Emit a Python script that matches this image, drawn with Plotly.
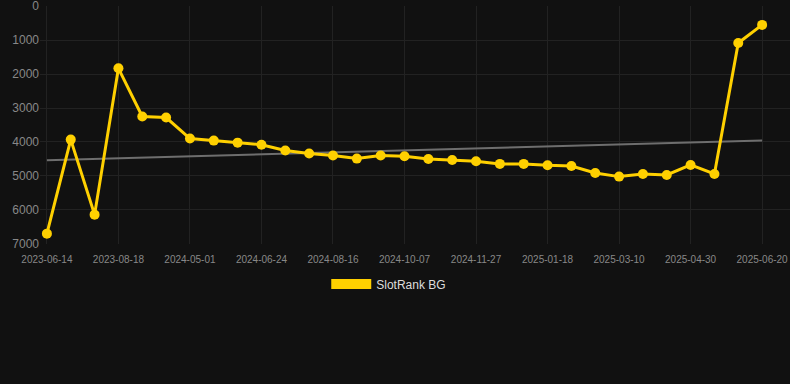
import plotly.graph_objects as go

dates = [
    "2023-06-14", "2023-07-06", "2023-07-28", "2023-08-18", "2024-03-29",
    "2024-04-15", "2024-05-01", "2024-05-19", "2024-06-06", "2024-06-24",
    "2024-07-12", "2024-07-29", "2024-08-16", "2024-09-02", "2024-09-20",
    "2024-10-07", "2024-10-24", "2024-11-10", "2024-11-27", "2024-12-14",
    "2025-01-01", "2025-01-18", "2025-02-04", "2025-02-21", "2025-03-10",
    "2025-03-27", "2025-04-13", "2025-04-30", "2025-05-17", "2025-06-03",
    "2025-06-20",
]
rank = [
    6700, 3930, 6140, 1830, 3250, 3280, 3900, 3960, 4020, 4080,
    4250, 4340, 4400, 4490, 4400, 4420, 4500, 4530, 4570, 4646,
    4646, 4687, 4706, 4912, 5020, 4942, 4972, 4676, 4942, 1083,
    551,
]
trend_x = [dates[0], dates[-1]]
trend_y = [4540, 3960]
tick_labels = dates[::3]
y_ticks = [0, 1000, 2000, 3000, 4000, 5000, 6000, 7000]
series_name = "SlotRank BG"

YELLOW = "#FFD000"

fig = go.Figure()
fig.add_trace(go.Scatter(
    x=trend_x, y=trend_y, mode="lines",
    line=dict(color="#6e6e6e", width=2), showlegend=False, hoverinfo="skip",
))
fig.add_trace(go.Scatter(
    x=dates, y=rank, mode="lines+markers",
    line=dict(color=YELLOW, width=3),
    marker=dict(color=YELLOW, size=10),
    showlegend=False,
))
fig.add_trace(go.Scatter(
    x=[None], y=[None], mode="lines",
    line=dict(color=YELLOW, width=12),
    name=series_name, showlegend=True,
))

fig.update_layout(
    width=790, height=384,
    paper_bgcolor="#111111", plot_bgcolor="#111111",
    margin=dict(l=40, r=0, t=6, b=140),
    font=dict(family="Arial, Liberation Sans, sans-serif", color="#888888"),
    legend=dict(
        orientation="h", x=0.465, xanchor="center", y=-0.168, yanchor="middle",
        font=dict(size=12, color="#dddddd"), itemwidth=40,
    ),
    xaxis=dict(
        type="category", categoryorder="array", categoryarray=dates,
        tickmode="array", tickvals=tick_labels, ticktext=tick_labels,
        range=[-0.29, 31.17],
        showgrid=True, gridcolor="#222222", gridwidth=1,
        zeroline=False, showline=False, ticks="",
        ticklabelstandoff=8, ticklabeloverflow="allow",
        tickfont=dict(size=10, color="#888888"),
    ),
    yaxis=dict(
        range=[7005, -5], tickmode="array", tickvals=y_ticks,
        showgrid=True, gridcolor="#222222", gridwidth=1,
        zeroline=False, showline=False, ticks="",
        ticklabeloverflow="allow",
        tickfont=dict(size=12, color="#888888"),
    ),
)

fig.write_html(
    "out.html",
    config={"displayModeBar": False},
    post_script="document.body.style.margin='0';document.body.style.background='#111111';",
)
